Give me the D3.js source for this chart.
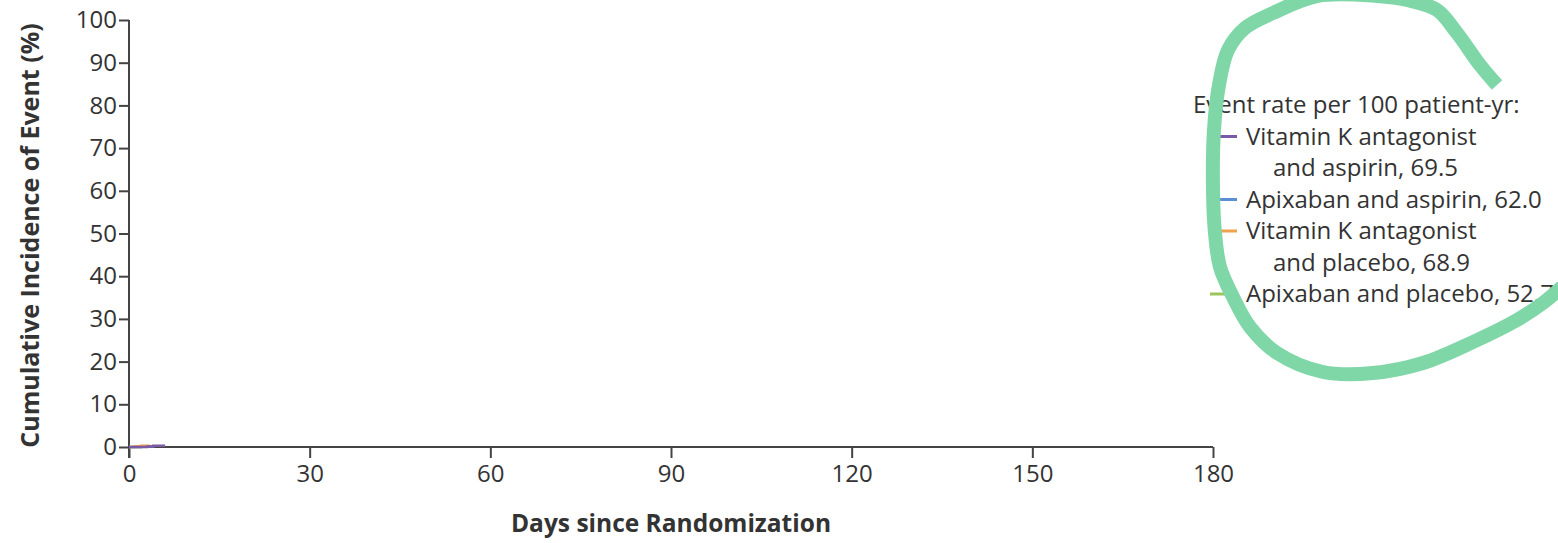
<!DOCTYPE html>
<html>
<head>
<meta charset="utf-8">
<script src="https://cdn.jsdelivr.net/npm/d3@7"></script>
<style>
  body { margin: 0; background: #fff; }
  text { font-family: "Open Sans", Lato, sans-serif; fill: #333; }
</style>
</head>
<body>
<div id="chart"></div>
<script>
// days and cumulative incidence (%), only first few days drawn
var vkaAspirin = [[0, 0], [3, 0.1], [4, 0.3], [6, 0.3]];
var apixAspirin = [[0, 0], [2, 0.1], [4, 0.2]];
var vkaPlacebo = [[0, 0], [1, 0.2], [2, 0.3], [3.5, 0.4]];
var apixPlacebo = [[0, 0], [2, 0.1], [3, 0.1]];

var xTicks = [0, 30, 60, 90, 120, 150, 180];
var yTicks = [0, 10, 20, 30, 40, 50, 60, 70, 80, 90, 100];

var legendNames = [["Vitamin K antagonist", "and aspirin, 69.5"],
                   ["Apixaban and aspirin, 62.0"],
                   ["Vitamin K antagonist", "and placebo, 68.9"],
                   ["Apixaban and placebo, 52.7"]];
var colors = ["#7a5aa6", "#5b8fd1", "#eea24a", "#9cc45c"];

var width = 1558, height = 543;

var svg = d3.select("#chart")
  .append("svg")
    .attr("width", width)
    .attr("height", height);

var x = d3.scaleLinear().domain([0, 180]).range([129, 1213]);
var y = d3.scaleLinear().domain([0, 100]).range([447, 20]);

// y axis
var yAxis = svg.append("g")
    .attr("transform", "translate(" + x(0) + ",0)")
    .call(d3.axisLeft(y).tickValues(yTicks).tickSize(10).tickPadding(2));
// x axis
var xAxis = svg.append("g")
    .attr("transform", "translate(0," + y(0) + ")")
    .call(d3.axisBottom(x).tickValues(xTicks).tickSize(11).tickPadding(7));

[yAxis, xAxis].forEach(function(a) {
  a.select(".domain").attr("stroke", "#444").attr("stroke-width", 2);
  a.selectAll(".tick line").attr("stroke", "#444").attr("stroke-width", 2);
  a.selectAll(".tick text").style("font-size", "24px").attr("fill", "#333");
});
yAxis.select(".domain").attr("d", "M0," + y(100) + "V" + (y(0) + 11));
xAxis.select(".domain").attr("d", "M" + x(0) + ",0H" + x(180));

// curves
var line = d3.line()
    .x(function(d) { return x(d[0]); })
    .y(function(d) { return y(d[1]); })
    .curve(d3.curveStepAfter);

[apixPlacebo, apixAspirin, vkaPlacebo, vkaAspirin].forEach(function(s, i) {
  var c = [colors[3], colors[1], colors[2], colors[0]][i];
  svg.append("path")
    .datum(s)
    .attr("fill", "none")
    .attr("stroke", c)
    .attr("stroke-width", 2.5)
    .attr("d", line);
});

// axis titles
svg.append("text")
  .attr("transform", "translate(39," + ((y(0) + y(100)) / 2 + 2) + ") rotate(-90)")
  .attr("text-anchor", "middle")
  .style("font-size", "25px")
  .style("font-weight", "bold")
  .text("Cumulative Incidence of Event (%)");

svg.append("text")
  .attr("x", 671)
  .attr("y", 532)
  .attr("text-anchor", "middle")
  .style("font-size", "24.5px")
  .style("font-weight", "bold")
  .text("Days since Randomization");

// legend
var lg = svg.append("g");
lg.append("text")
  .attr("x", 1193).attr("y", 113)
  .style("font-size", "24px")
  .text("Event rate per 100 patient-yr:");

var row = 1;
legendNames.forEach(function(lines, i) {
  var yy = 113 + row * 31.5;
  lg.append("line")
    .attr("x1", 1210).attr("x2", 1237)
    .attr("y1", yy - 8).attr("y2", yy - 8)
    .attr("stroke", colors[i]).attr("stroke-width", 3);
  lines.forEach(function(t, j) {
    lg.append("text")
      .attr("x", j == 0 ? 1246 : 1273)
      .attr("y", yy + j * 31.5)
      .style("font-size", "24px")
      .text(t);
  });
  row += lines.length;
});

// hand-drawn highlight around the legend
var mark = [[1497, 85], [1480, 65], [1457, 33], [1437, 10], [1407, 0], [1377, -4],
            [1317, -4], [1273, 13], [1245, 28], [1228, 50], [1219, 85], [1214, 130],
            [1213, 190], [1215, 233], [1220, 267], [1233, 297], [1250, 327], [1277, 353],
            [1323, 372], [1373, 373], [1423, 363], [1473, 342], [1517, 320], [1543, 303], [1562, 287]];
svg.append("path")
  .datum(mark)
  .attr("fill", "none")
  .attr("stroke", "#7fd7a8")
  .attr("stroke-width", 14)
  .attr("stroke-linejoin", "round")
  .attr("d", d3.line().curve(d3.curveCatmullRom));
</script>
</body>
</html>
